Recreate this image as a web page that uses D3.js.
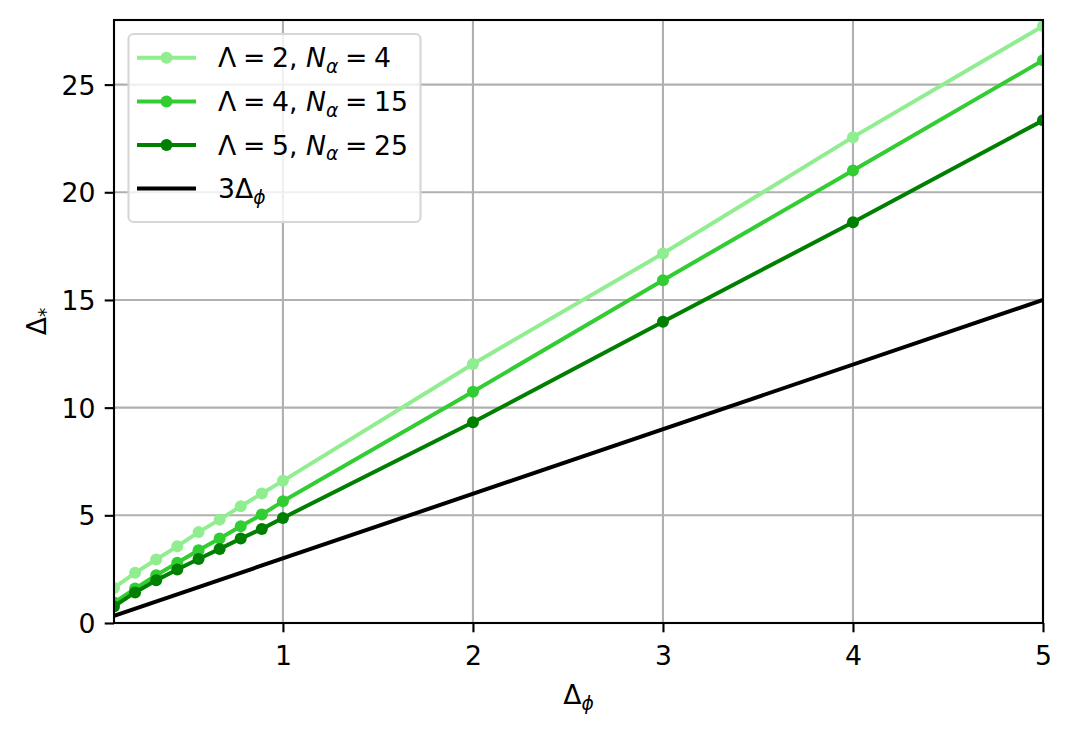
<!DOCTYPE html>
<html>
<head>
<meta charset="utf-8">
<script src="https://cdn.jsdelivr.net/npm/d3@7"></script>
<style>
  body { margin: 0; background: #fff; }
  text { font-family: "DejaVu Sans", sans-serif; }
</style>
</head>
<body>
<div id="chart"></div>
<script>
// x values (Delta_phi)
const deltaPhi = [0.111, 0.222, 0.333, 0.444, 0.556, 0.667, 0.778, 0.889, 1, 2, 3, 4, 5];

// Delta_* per run
const lam2 = [1.63, 2.33, 2.95, 3.56, 4.22, 4.80, 5.42, 6.01, 6.60, 12.03, 17.16, 22.56, 27.72];
const lam4 = [0.95, 1.60, 2.22, 2.80, 3.38, 3.92, 4.49, 5.04, 5.65, 10.74, 15.92, 21.01, 26.13];
const lam5 = [0.77, 1.42, 1.98, 2.48, 2.97, 3.44, 3.92, 4.37, 4.88, 9.32, 13.99, 18.61, 23.34];

// reference line 3*Delta_phi
const refX = [0.111, 5];
const refY = [0.333, 15];

const xTicks = [1, 2, 3, 4, 5];
const yTicks = [0, 5, 10, 15, 20, 25];

const W = 1072, H = 736;
const margin = { top: 20, right: 29, bottom: 113, left: 114 };
const fs = 26.7;      // 10pt font
const lw = 4;         // 1.5pt line
const tick = 9.3;
const sp = "\u2005";  // math spacing around "="

const x = d3.scaleLinear([0.111, 5], [margin.left, W - margin.right]);
const y = d3.scaleLinear([0, 28], [H - margin.bottom, margin.top]);

const svg = d3.select("#chart").append("svg")
  .attr("width", W)
  .attr("height", H);

svg.append("defs").append("clipPath").attr("id", "clip")
  .append("rect")
  .attr("x", margin.left).attr("y", margin.top)
  .attr("width", W - margin.left - margin.right)
  .attr("height", H - margin.top - margin.bottom);

// grid
const grid = svg.append("g").attr("stroke", "#b0b0b0").attr("stroke-width", 2.1);
grid.selectAll(".gx").data(xTicks).enter().append("line")
  .attr("x1", d => x(d)).attr("x2", d => x(d))
  .attr("y1", margin.top).attr("y2", H - margin.bottom);
grid.selectAll(".gy").data(yTicks).enter().append("line")
  .attr("x1", margin.left).attr("x2", W - margin.right)
  .attr("y1", d => y(d)).attr("y2", d => y(d));

const series = [
  { vals: lam2, color: "#90ee90", lam: "2", n: "4" },
  { vals: lam4, color: "#32cd32", lam: "4", n: "15" },
  { vals: lam5, color: "#008000", lam: "5", n: "25" }
];

const line = d3.line().x(d => x(d[0])).y(d => y(d[1]));
const plot = svg.append("g").attr("clip-path", "url(#clip)");

series.forEach(s => {
  const pts = deltaPhi.map((d, i) => [d, s.vals[i]]);
  const g = plot.append("g");
  g.append("path")
    .attr("d", line(pts))
    .attr("fill", "none")
    .attr("stroke", s.color)
    .attr("stroke-width", lw)
    .attr("stroke-linejoin", "round")
    .attr("stroke-linecap", "square");
  g.selectAll("circle").data(pts).enter().append("circle")
    .attr("cx", d => x(d[0]))
    .attr("cy", d => y(d[1]))
    .attr("r", 6)
    .attr("fill", s.color);
});

plot.append("path")
  .attr("d", line(refX.map((d, i) => [d, refY[i]])))
  .attr("fill", "none")
  .attr("stroke", "#000")
  .attr("stroke-width", lw);

// axes
const xAxis = d3.axisBottom(x).tickValues(xTicks).tickSize(tick).tickPadding(tick).tickFormat(d3.format("d"));
const yAxis = d3.axisLeft(y).tickValues(yTicks).tickSize(tick).tickPadding(tick).tickFormat(d3.format("d"));

const gx = svg.append("g")
  .attr("transform", "translate(0," + (H - margin.bottom) + ")")
  .call(xAxis);
const gy = svg.append("g")
  .attr("transform", "translate(" + margin.left + ",0)")
  .call(yAxis);

[gx, gy].forEach(g => {
  g.select(".domain").remove();
  g.selectAll(".tick line").attr("stroke", "#000").attr("stroke-width", 2.1);
  g.selectAll(".tick text").attr("fill", "#000").attr("font-size", fs)
    .attr("font-family", "DejaVu Sans");
});
gx.selectAll(".tick text").attr("y", 0).attr("dy", 0)
  .attr("transform", "translate(0,42)");
gy.selectAll(".tick text").attr("dy", "0.36em");

// spines
svg.append("rect")
  .attr("x", margin.left).attr("y", margin.top)
  .attr("width", W - margin.left - margin.right)
  .attr("height", H - margin.top - margin.bottom)
  .attr("fill", "none")
  .attr("stroke", "#000")
  .attr("stroke-width", 2.1);

// math-like label: parts [{t, it, sub}]
function mathText(sel, parts, size) {
  let shifted = false;
  parts.forEach(p => {
    const ts = sel.append("tspan").text(p.t);
    if (p.it) ts.attr("font-style", "italic");
    if (p.sub && !shifted) { ts.attr("font-size", size * 0.7).attr("dy", size * 0.22); shifted = true; }
    else if (!p.sub && shifted) { ts.attr("dy", -size * 0.22); shifted = false; }
  });
}

// axis labels
const xl = svg.append("text")
  .attr("x", (margin.left + W - margin.right) / 2)
  .attr("y", 704)
  .attr("text-anchor", "middle")
  .attr("font-size", fs);
mathText(xl, [{ t: "Δ" }, { t: "ϕ", it: true, sub: true }], fs);

const yl = svg.append("text")
  .attr("transform", "translate(46," + ((margin.top + H - margin.bottom) / 2) + ") rotate(-90)")
  .attr("text-anchor", "middle")
  .attr("font-size", fs);
mathText(yl, [{ t: "Δ" }, { t: "*", sub: true }], fs);

// legend
const leg = svg.append("g");
leg.append("rect")
  .attr("x", 128.5).attr("y", 34)
  .attr("width", 292).attr("height", 188)
  .attr("rx", 5)
  .attr("fill", "#fff").attr("fill-opacity", 0.8)
  .attr("stroke", "#d6d6d6").attr("stroke-width", 2.1);

const rowY = [57.7, 101.5, 145, 188.5];
const entries = series.map(s => ({ color: s.color, marker: true,
  parts: [{ t: "Λ" + sp + "=" + sp + s.lam + ", " }, { t: "N", it: true }, { t: "α", it: true, sub: true }, { t: sp + "=" + sp + s.n }] }))
  .concat([{ color: "#000", marker: false, parts: [{ t: "3Δ" }, { t: "ϕ", it: true, sub: true }] }]);

entries.forEach((e, i) => {
  const ry = rowY[i];
  leg.append("line")
    .attr("x1", 137).attr("x2", 196)
    .attr("y1", ry).attr("y2", ry)
    .attr("stroke", e.color).attr("stroke-width", lw);
  if (e.marker) {
    leg.append("circle").attr("cx", 166.5).attr("cy", ry).attr("r", 6).attr("fill", e.color);
  }
  const t = leg.append("text")
    .attr("x", 218).attr("y", ry + 9.5)
    .attr("font-size", fs);
  mathText(t, e.parts, fs);
});
</script>
</body>
</html>
